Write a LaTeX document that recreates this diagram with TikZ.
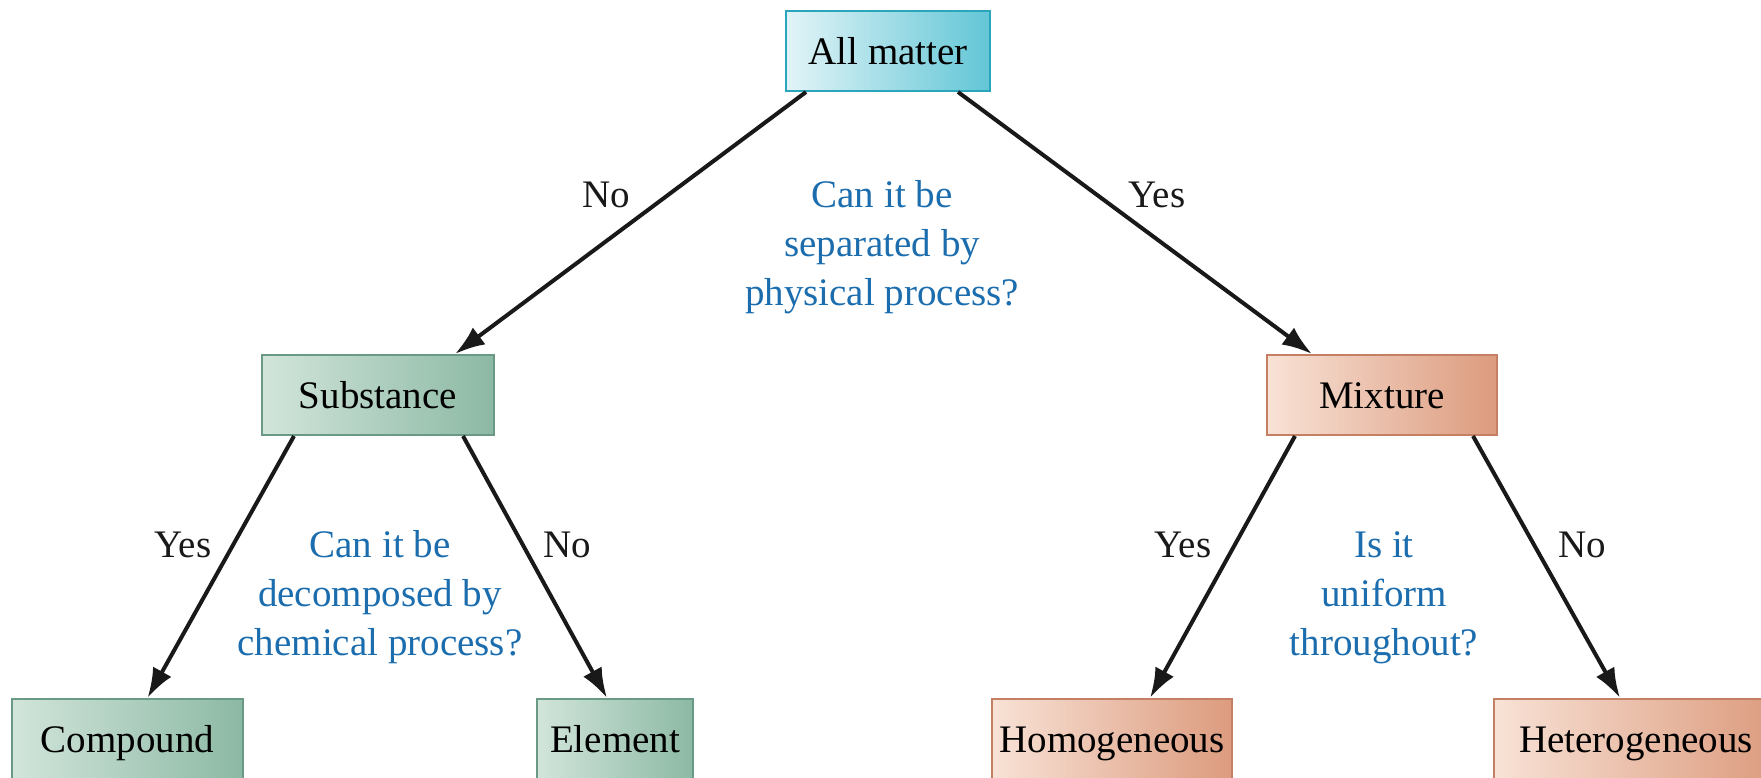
\documentclass[tikz,border=0pt]{standalone}
\usepackage{fontspec}
\setmainfont{Liberation Serif}
\usetikzlibrary{arrows.meta}
\definecolor{qblue}{HTML}{1B6DAE}
\definecolor{cyanL}{HTML}{E2F4F7}
\definecolor{cyanR}{HTML}{62C6D6}
\definecolor{cyanD}{HTML}{2BA5BC}
\definecolor{grnL}{HTML}{D2E5DB}
\definecolor{grnR}{HTML}{8CB9A4}
\definecolor{grnD}{HTML}{6A9A85}
\definecolor{salL}{HTML}{F8E2D6}
\definecolor{salR}{HTML}{DC9B7E}
\definecolor{salD}{HTML}{C58063}
\tikzset{
  txt/.style={font=\fontsize{39}{49}\selectfont},
  box/.style={txt, draw, line width=2pt, inner sep=0pt, minimum height=80pt, text height=26pt, text depth=0pt},
  cyanbox/.style={box, draw=cyanD, left color=cyanL, right color=cyanR},
  grnbox/.style={box, draw=grnD, left color=grnL, right color=grnR},
  salbox/.style={box, draw=salD, left color=salL, right color=salR},
  lbl/.style={txt, anchor=base, inner sep=0pt, text=black!90},
  qtxt/.style={txt, anchor=base, inner sep=0pt, text=qblue},
  arr/.style={line width=4pt, draw=black!90, -{Latex[length=30pt,width=21pt]}}
}
\begin{document}
\begin{tikzpicture}[x=1pt,y=-1pt]
\useasboundingbox (0,0) rectangle (1761,777);
% boxes
\node[cyanbox, minimum width=204pt] (all) at (888,51) {All matter};
\node[grnbox, minimum width=232pt] (sub) at (378,395) {Substance};
\node[salbox, minimum width=230pt] (mix) at (1382,395) {Mixture};
\node[grnbox, minimum width=231pt] (comp) at (127.5,739) {Compound};
\node[grnbox, minimum width=156pt] (elem) at (615,739) {Element};
\node[salbox, minimum width=240pt] (homo) at (1112,739) {Homogeneous};
\node[salbox, minimum width=284pt] (het) at (1636,739) {Heterogeneous};
% connectors
\draw[arr] ([xshift=-82pt]all.south) -- ([xshift=77pt]sub.north);
\draw[arr] ([xshift=70pt]all.south) -- ([xshift=-70pt]mix.north);
\draw[arr] ([xshift=-84pt]sub.south) -- ([xshift=20pt]comp.north);
\draw[arr] ([xshift=85pt]sub.south) -- ([xshift=-8pt]elem.north);
\draw[arr] ([xshift=-87pt]mix.south) -- ([xshift=38pt]homo.north);
\draw[arr] ([xshift=91pt]mix.south) -- ([xshift=-16pt]het.north);
% labels
\node[lbl] (n1) at (606,207) {No};
\node[lbl] (y1) at (1157,207) {Yes};
\node[lbl] (y2) at (183,557) {Yes};
\node[lbl] (n2) at (567,557) {No};
\node[lbl] (y3) at (1183,557) {Yes};
\node[lbl] (n3) at (1582,557) {No};
% questions
\node[qtxt] (qa1) at (882,207) {Can it be};
\node[qtxt] (qa2) at (882,256) {separated by};
\node[qtxt] (qa3) at (882,305) {physical process?};
\node[qtxt] (qb1) at (380,557) {Can it be};
\node[qtxt] (qb2) at (380,606) {decomposed by};
\node[qtxt] (qb3) at (380,655) {chemical process?};
\node[qtxt] (qc1) at (1384,557) {Is it};
\node[qtxt] (qc2) at (1384,606) {uniform};
\node[qtxt] (qc3) at (1384,655) {throughout?};
\end{tikzpicture}
\end{document}
